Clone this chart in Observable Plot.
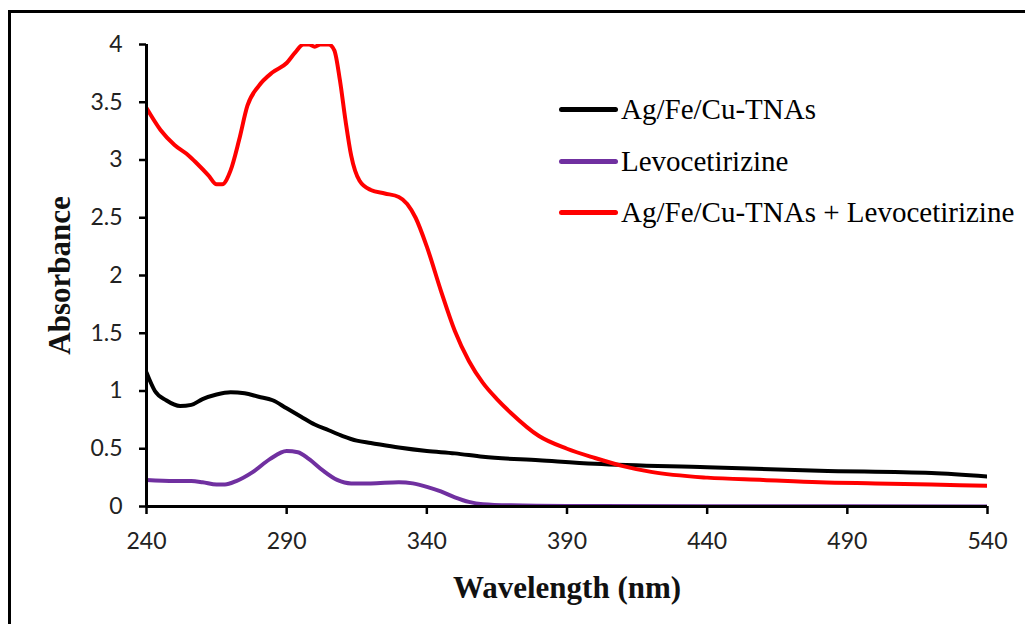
<!DOCTYPE html>
<html>
<head>
<meta charset="utf-8">
<script src="https://cdn.jsdelivr.net/npm/d3@7"></script>
<script src="https://cdn.jsdelivr.net/npm/@observablehq/plot@0.6"></script>
<style>
  html, body { margin: 0; padding: 0; background: #fff; }
  #wrap { position: relative; width: 1025px; height: 624px; overflow: hidden; background: #fff; }
  #frame { position: absolute; left: 8px; top: 10px; width: 1100px; height: 700px; border-left: 3px solid #000; border-top: 3px solid #000; box-sizing: border-box; pointer-events: none; }
  #legend { position: absolute; left: 559px; top: 84px; font-family: "Liberation Serif", "Times New Roman", serif; font-size: 29px; color: #000; }
  .row { display: flex; align-items: center; height: 51.5px; }
  .sw { width: 59px; height: 5px; border-radius: 3px; margin-right: 3px; }
</style>
</head>
<body>
<div id="wrap">
  <div id="chart"></div>
  <div id="frame"></div>
  <div id="legend"></div>
</div>
<script>
const seriesNames = ["Ag/Fe/Cu-TNAs", "Levocetirizine", "Ag/Fe/Cu-TNAs + Levocetirizine"];
const seriesColors = ["#000000", "#7030A0", "#FF0000"];
const xTicks = [240, 290, 340, 390, 440, 490, 540];
const yTicks = [0, 0.5, 1, 1.5, 2, 2.5, 3, 3.5, 4];

const tnaWl  = [240, 243, 247, 252, 256, 260, 265, 270, 275, 280, 285, 290, 295, 300, 305, 310, 315, 320, 330, 340, 350, 360, 380, 400, 440, 480, 520, 540];
const tnaAbs = [1.16, 1.0, 0.92, 0.87, 0.88, 0.93, 0.97, 0.99, 0.98, 0.95, 0.92, 0.85, 0.78, 0.71, 0.66, 0.61, 0.57, 0.55, 0.51, 0.48, 0.46, 0.43, 0.40, 0.37, 0.34, 0.31, 0.29, 0.26];

const levWl  = [240, 250, 256, 260, 265, 268, 272, 278, 284, 290, 294, 298, 303, 308, 313, 320, 330, 335, 340, 345, 350, 355, 360, 370, 390, 440, 490, 540];
const levAbs = [0.23, 0.22, 0.22, 0.21, 0.19, 0.19, 0.22, 0.30, 0.41, 0.48, 0.47, 0.41, 0.31, 0.23, 0.20, 0.20, 0.21, 0.20, 0.17, 0.13, 0.08, 0.04, 0.02, 0.01, 0.005, 0.003, 0.002, 0.0];

const mixWl  = [240, 245, 250, 255, 258, 262, 265, 267, 270, 273, 276, 280, 285, 290, 293, 296, 298, 300, 302, 305, 307, 309, 311, 313, 316, 320, 325, 330, 333, 336, 340, 345, 350, 355, 360, 365, 370, 380, 390, 400, 410, 420, 440, 460, 480, 500, 520, 540];
const mixAbs = [3.45, 3.26, 3.13, 3.04, 2.97, 2.87, 2.79, 2.79, 2.91, 3.17, 3.47, 3.64, 3.76, 3.84, 3.93, 4.0, 4.0, 3.98, 4.0, 4.0, 3.95, 3.69, 3.34, 3.04, 2.82, 2.74, 2.71, 2.68, 2.62, 2.50, 2.25, 1.87, 1.52, 1.26, 1.07, 0.93, 0.81, 0.61, 0.50, 0.42, 0.35, 0.30, 0.25, 0.23, 0.21, 0.20, 0.19, 0.18];

const wls = [tnaWl, levWl, mixWl];
const abss = [tnaAbs, levAbs, mixAbs];
const data = [];
seriesNames.forEach((name, i) => {
  wls[i].forEach((w, j) => data.push({series: name, wl: w, abs: abss[i][j]}));
});

const tickFont = "Lato, 'Open Sans', sans-serif";
const titleFont = "'Liberation Serif', 'Times New Roman', serif";
const chart = Plot.plot({
  width: 1025,
  height: 624,
  marginLeft: 146,
  marginRight: 38,
  marginTop: 44,
  marginBottom: 118,
  style: {background: "transparent", color: "#222", overflow: "visible", fontSize: "23px", fontFamily: tickFont},
  x: {domain: [240, 540], ticks: xTicks, tickSize: 8, tickPadding: 18, label: null},
  y: {domain: [0, 4], ticks: yTicks, tickSize: 7, tickPadding: 17, label: null, tickFormat: d => String(d)},
  color: {domain: seriesNames, range: seriesColors},
  marks: [
    Plot.lineY(data, {x: "wl", y: "abs", z: "series", stroke: "series", strokeWidth: 4, curve: "monotone-x", clip: true, strokeLinecap: "round", strokeLinejoin: "round"}),
    Plot.ruleY([0], {stroke: "#000", strokeWidth: 3}),
    Plot.ruleX([240], {stroke: "#000", strokeWidth: 3}),
    Plot.text([0], {frameAnchor: "bottom", dy: 82, text: () => "Wavelength (nm)", fontFamily: titleFont, fontWeight: "bold", fontSize: 31, fill: "#111", lineAnchor: "middle", textAnchor: "middle"}),
    Plot.text([0], {frameAnchor: "left", dx: -86, rotate: -90, text: () => "Absorbance", fontFamily: titleFont, fontWeight: "bold", fontSize: 31, fill: "#111", textAnchor: "middle", lineAnchor: "middle"})
  ]
});
chart.querySelectorAll("g[aria-label$='tick']").forEach(g => { g.setAttribute("stroke", "#000"); g.setAttribute("stroke-width", "2.5"); });
document.getElementById("chart").appendChild(chart);

const legend = document.getElementById("legend");
seriesNames.forEach((name, i) => {
  const row = document.createElement("div");
  row.className = "row";
  const sw = document.createElement("div");
  sw.className = "sw";
  sw.style.background = seriesColors[i];
  const label = document.createElement("span");
  label.textContent = name;
  row.appendChild(sw);
  row.appendChild(label);
  legend.appendChild(row);
});
</script>
</body>
</html>
